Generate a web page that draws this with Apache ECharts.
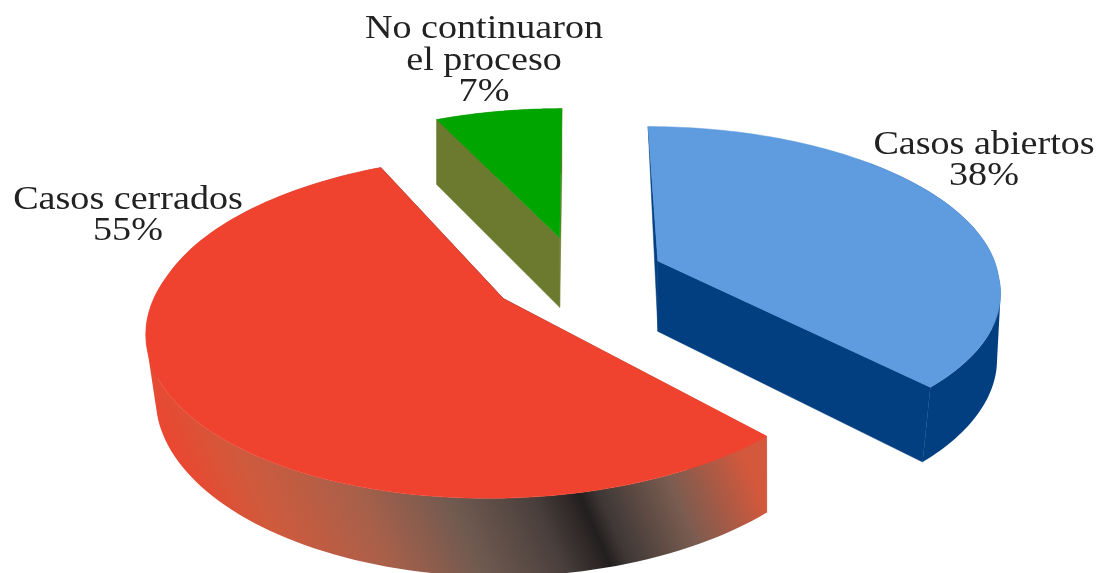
<!DOCTYPE html>
<html><head><meta charset="utf-8">
<style>html,body{margin:0;padding:0;background:#fff}#c{width:1098px;height:573px}</style>
<script src="https://cdn.jsdelivr.net/npm/echarts@6/dist/echarts.min.js"></script>
</head><body><div id="c"></div>
<script>
const categories = ['Casos abiertos', 'Casos cerrados', 'No continuaron\nel proceso'];
const values = [38, 55, 7];
const topColors = ['#5f9bdf', '#f0432f', '#00a500'];
const wallColors = ['#023f80', null, '#6b7a2e'];

// 3D view (layout, not data)
const view = {cx: 577, cy: 275.5, A: 341, B: 157, kNear: 0.17, kFar: 0.14, explode: 0.255,
  wallH: 71, wallK: 0.08};
const sliceNudge = [1, 0, 1];
const sliceLean = [[700, 0.04], [770, 0.03], [0, 0]];
const labelPos = [[984, 161], [128, 216], [484, 61]];
const redWall = {
  type: 'linear', global: true, x: 146, y: 400, x2: 629, y2: 191,
  colorStops: [
    {offset: 0, color: '#ec4630'}, {offset: .12, color: '#d05a3c'}, {offset: .3, color: '#a8604a'},
    {offset: .46, color: '#6f5a50'}, {offset: .6, color: '#4a3f3c'}, {offset: .685, color: '#231f1f'},
    {offset: .72, color: '#3f3836'}, {offset: .85, color: '#7a5c50'}, {offset: 1, color: '#d4583c'}
  ]
};
const total = values.reduce((a, b) => a + b, 0);

function project(u, v, low, i) {
  const w = 1 - (v < 0 ? view.kFar : view.kNear) * v;
  let x = view.cx + sliceNudge[i] + view.A * u / w;
  let y = view.cy + view.B * v / w;
  if (low) {
    y += view.wallH / (1 - view.wallK * v);
    x -= sliceLean[i][1] * (x - sliceLean[i][0]) * Math.max(v + 0.2, 0);
  }
  return [x, y];
}

// one path made of many quads, all wound the same way, so there are no seams between them
function sweptPath(arcU, arcD, from, fill) {
  let d = '', x0 = Infinity, y0 = Infinity, x1 = -Infinity, y1 = -Infinity;
  for (let s = from; s < arcU.length - 1; s++) {
    let q = [arcU[s], arcU[s + 1], arcD[s + 1], arcD[s]];
    let area = 0;
    q.forEach((p, k) => { const r = q[(k + 1) % 4]; area += p[0] * r[1] - r[0] * p[1]; });
    if (area < 0) q = q.slice().reverse();
    q.forEach((p, k) => {
      d += (k ? 'L' : 'M') + p[0].toFixed(2) + ' ' + p[1].toFixed(2) + ' ';
      x0 = Math.min(x0, p[0]); y0 = Math.min(y0, p[1]);
      x1 = Math.max(x1, p[0]); y1 = Math.max(y1, p[1]);
    });
    d += 'Z ';
  }
  return {
    type: 'path', silent: true,
    shape: {pathData: d, layout: 'cover', x: x0, y: y0, width: x1 - x0, height: y1 - y0},
    style: {fill}
  };
}

function renderSlice(params, api) {
  const i = params.dataIndex;
  let start = 0;
  for (let j = 0; j < i; j++) start += values[j];
  const a0 = start / total * 2 * Math.PI;
  const a1 = (start + api.value(0)) / total * 2 * Math.PI;
  const mid = (a0 + a1) / 2;
  const ou = view.explode * Math.sin(mid), ov = -view.explode * Math.cos(mid);
  const arcU = [], arcD = [];
  const n = 120;
  for (let s = 0; s <= n; s++) {
    const a = a0 + (a1 - a0) * s / n;
    const u = ou + Math.sin(a), v = ov - Math.cos(a);
    arcU.push(project(u, v, false, i));
    arcD.push(project(u, v, true, i));
  }
  const apexU = project(ou, ov, false, i), apexD = project(ou, ov, true, i);
  const wallFill = wallColors[i] || redWall;
  const poly = (points, fill) => ({type: 'polygon', shape: {points}, style: {fill, stroke: fill, lineWidth: 0.5}, silent: true});
  // the wall at 12 o'clock shows only as a thin sliver: its far lower corner is out of sight
  const startWall = a0 === 0 ? [apexU, arcU[0], apexD] : [apexU, arcU[0], arcD[0], apexD];
  const children = [
    poly(startWall, wallFill),
    poly([apexU, arcU[n], arcD[n], apexD], wallFill),
    sweptPath(arcU, arcD, a0 === 0 ? 40 : 0, wallFill),
    poly([apexU].concat(arcU), topColors[i]),
    {
      type: 'text', x: labelPos[i][0], y: labelPos[i][1], scaleX: 1.155, silent: true,
      style: {
        text: categories[i] + '\n' + api.value(0) + '%',
        fontFamily: '"Liberation Serif"', fontSize: 33, lineHeight: 31.5,
        fill: '#222', textAlign: 'center', textVerticalAlign: 'middle'
      }
    }
  ];
  return {type: 'group', children};
}

const chart = echarts.init(document.getElementById('c'), null, {renderer: 'canvas'});
chart.setOption({
  animation: false,
  backgroundColor: '#fff',
  series: [{
    type: 'custom',
    coordinateSystem: 'none',
    renderItem: renderSlice,
    data: values.map((v, i) => ({name: categories[i], value: [v]}))
  }]
});
</script></body></html>
